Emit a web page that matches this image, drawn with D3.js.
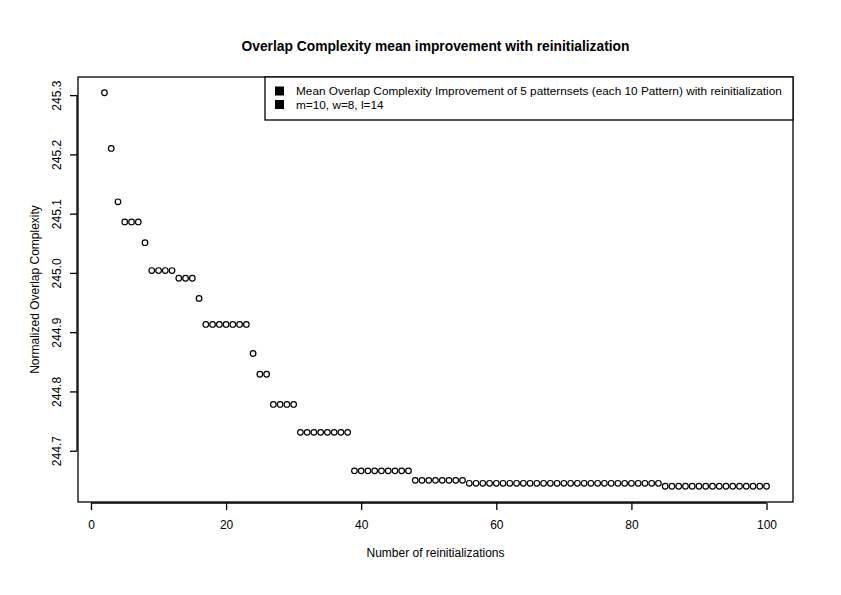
<!DOCTYPE html>
<html>
<head>
<meta charset="utf-8">
<script src="https://cdn.jsdelivr.net/npm/d3@7"></script>
<style>
  body { margin: 0; background: #fff; }
  svg { font-family: "Liberation Sans", Arial, Helvetica, sans-serif; }
</style>
</head>
<body>
<svg id="chart" width="841" height="595"></svg>
<script>
// data
const reinits = d3.range(2, 101);
const overlap = [
  245.304, 245.210, 245.120, 245.086, 245.086, 245.086, 245.051,
  245.004, 245.004, 245.004, 245.004,
  244.991, 244.991, 244.991, 244.957,
  244.913, 244.913, 244.913, 244.913, 244.913, 244.913, 244.913,
  244.864, 244.829, 244.829,
  244.778, 244.778, 244.778, 244.778,
  244.731, 244.731, 244.731, 244.731, 244.731, 244.731, 244.731, 244.731,
  244.666, 244.666, 244.666, 244.666, 244.666, 244.666, 244.666, 244.666, 244.666,
  244.650, 244.650, 244.650, 244.650, 244.650, 244.650, 244.650, 244.650,
  244.645, 244.645, 244.645, 244.645, 244.645, 244.645, 244.645, 244.645, 244.645, 244.645,
  244.645, 244.645, 244.645, 244.645, 244.645, 244.645, 244.645, 244.645, 244.645, 244.645,
  244.645, 244.645, 244.645, 244.645, 244.645, 244.645, 244.645, 244.645, 244.645,
  244.640, 244.640, 244.640, 244.640, 244.640, 244.640, 244.640, 244.640,
  244.640, 244.640, 244.640, 244.640, 244.640, 244.640, 244.640, 244.640
];
const xTicks = [0, 20, 40, 60, 80, 100];
const yTicks = [244.7, 244.8, 244.9, 245.0, 245.1, 245.2, 245.3];
const legendLabels = [
  "Mean Overlap Complexity Improvement of 5 patternsets (each 10 Pattern) with reinitialization",
  "m=10, w=8, l=14"
];
const title = "Overlap Complexity mean improvement with reinitialization";

const points = reinits.map((r, i) => ({ x: r, y: overlap[i] }));

const box = { left: 78, right: 793, top: 77, bottom: 502 };
const fontSize = 12;
const svg = d3.select('#chart');

// R style 4% extension of the data range
function padded(ext) {
  const d = (ext[1] - ext[0]) * 0.04;
  return [ext[0] - d, ext[1] + d];
}

const x = d3.scaleLinear()
  .domain(padded(d3.extent(reinits)))
  .range([box.left, box.right]);
const y = d3.scaleLinear()
  .domain(padded(d3.extent(overlap)))
  .range([box.bottom, box.top]);

// plot frame
svg.append('rect')
  .attr('x', box.left).attr('y', box.top)
  .attr('width', box.right - box.left).attr('height', box.bottom - box.top)
  .attr('fill', 'none').attr('stroke', '#000').attr('stroke-width', 1.3);

// x axis
const xAxis = svg.append('g')
  .attr('transform', `translate(0,${box.bottom + 1})`)
  .call(d3.axisBottom(x).tickValues(xTicks).tickSize(7).tickSizeOuter(0).tickPadding(10));
xAxis.select('.domain')
  .attr('d', `M${x(xTicks[0])},0H${x(xTicks[xTicks.length - 1])}`);

// y axis
const yAxis = svg.append('g')
  .attr('transform', `translate(${box.left - 1},0)`)
  .call(d3.axisLeft(y).tickValues(yTicks).tickSize(7).tickSizeOuter(0).tickFormat(d3.format('.1f')));
yAxis.select('.domain')
  .attr('d', `M0,${y(yTicks[0])}V${y(yTicks[yTicks.length - 1])}`);
yAxis.selectAll('.tick text')
  .attr('x', null).attr('dy', null)
  .attr('text-anchor', 'middle')
  .attr('transform', 'translate(-16,0) rotate(-90)');

svg.selectAll('.tick text')
  .attr('font-size', fontSize)
  .attr('font-family', '"Liberation Sans", Arial, sans-serif')
  .attr('fill', '#000');
svg.selectAll('.domain, .tick line')
  .attr('stroke', '#000').attr('stroke-width', 1.3);

// points
svg.append('g')
  .selectAll('circle')
  .data(points)
  .enter().append('circle')
  .attr('cx', d => x(d.x))
  .attr('cy', d => y(d.y))
  .attr('r', 2.8)
  .attr('fill', 'none')
  .attr('stroke', '#000')
  .attr('stroke-width', 1.2);

// title and axis labels
svg.append('text')
  .attr('x', (box.left + box.right) / 2).attr('y', 51)
  .attr('text-anchor', 'middle')
  .attr('font-size', 13.8).attr('font-weight', 'bold')
  .text(title);

svg.append('text')
  .attr('x', (box.left + box.right) / 2).attr('y', 557)
  .attr('text-anchor', 'middle')
  .attr('font-size', fontSize)
  .text('Number of reinitializations');

svg.append('text')
  .attr('transform', `translate(39,${(box.top + box.bottom) / 2}) rotate(-90)`)
  .attr('text-anchor', 'middle')
  .attr('font-size', fontSize)
  .text('Normalized Overlap Complexity');

// legend
const legend = svg.append('g');
legend.append('rect')
  .attr('x', 265).attr('y', box.top)
  .attr('width', box.right - 265).attr('height', 43)
  .attr('fill', '#fff').attr('stroke', '#000').attr('stroke-width', 1.3);

legendLabels.forEach((label, i) => {
  const cy = 91 + i * 13.5;
  legend.append('rect')
    .attr('x', 275).attr('y', cy - 4.5)
    .attr('width', 9).attr('height', 9)
    .attr('fill', '#000');
  legend.append('text')
    .attr('x', 296).attr('y', cy + 4)
    .attr('font-size', 11.8)
    .text(label);
});
</script>
</body>
</html>
